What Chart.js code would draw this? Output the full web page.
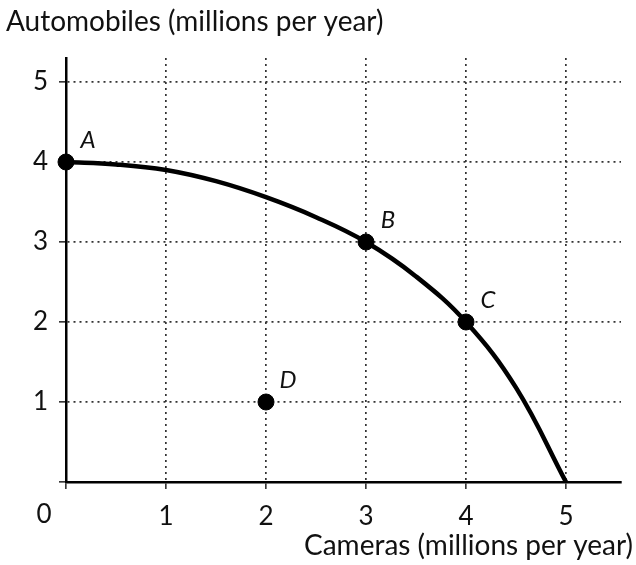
<!DOCTYPE html>
<html>
<head>
<meta charset="utf-8">
<script src="https://cdn.jsdelivr.net/npm/chart.js@4"></script>
<style>
  html, body { margin: 0; padding: 0; background: #fff; }
  #wrap { width: 636px; height: 565px; position: relative; }
</style>
</head>
<body>
<div id="wrap"><canvas id="ppf"></canvas></div>
<script>
// PPF curve
const curveX = [0, 0.5, 1, 1.5, 2, 2.5, 3, 3.5, 4, 4.5, 5];
const curveY = [4, 3.97, 3.9, 3.76, 3.56, 3.31, 3, 2.57, 2, 1.18, 0];

// labelled points
const pointNames = ['A', 'B', 'C', 'D'];
const pointX = [0, 3, 4, 2];
const pointY = [4, 3, 2, 1];

const xTicks = [1, 2, 3, 4, 5];
const yTicks = [1, 2, 3, 4, 5];
const yTitle = 'Automobiles (millions per year)';
const xTitle = 'Cameras (millions per year)';

const FONT = 'Lato, "Open Sans", sans-serif';

const annotate = {
	id: 'annotate',
	afterDatasetsDraw(chart) {
		const ctx = chart.ctx;
		const xs = chart.scales.x, ys = chart.scales.y;
		ctx.save();
		ctx.fillStyle = '#111';
		// point letters
		ctx.font = 'italic 24px ' + FONT;
		ctx.textAlign = 'center';
		ctx.textBaseline = 'middle';
		pointNames.forEach((n, i) => {
			ctx.fillText(n, xs.getPixelForValue(pointX[i]) + 22, ys.getPixelForValue(pointY[i]) - 22);
		});
		// axis titles
		ctx.font = '28px ' + FONT;
		ctx.textAlign = 'left';
		ctx.fillText(yTitle, 6, 22);
		ctx.textAlign = 'right';
		ctx.fillText(xTitle, 633, 546);
		// origin label
		ctx.font = '26px ' + FONT;
		ctx.textAlign = 'center';
		ctx.fillText('0', 44, 515);
		ctx.restore();
	}
};

const ctx = document.getElementById('ppf').getContext('2d');
new Chart(ctx, {
	type: 'scatter',
	data: {
		datasets: [
			{
				data: pointX.map((x, i) => ({ x: x, y: pointY[i] })),
				backgroundColor: '#000',
				borderColor: '#000',
				pointRadius: 8,
				showLine: false,
				clip: false,
				order: 0
			},
			{
				data: curveX.map((x, i) => ({ x: x, y: curveY[i] })),
				borderColor: '#000',
				borderWidth: 4.5,
				pointRadius: 0,
				showLine: true,
				tension: 0.4,
				order: 1
			}
		]
	},
	options: {
		responsive: true,
		maintainAspectRatio: false,
		animation: false,
		layout: { padding: { top: 58, right: 15, left: 0, bottom: 0 } },
		plugins: {
			legend: { display: false },
			tooltip: { enabled: false }
		},
		scales: {
			x: {
				type: 'linear',
				min: 0,
				max: 5.55,
				afterFit: (s) => { s.height = 83; },
				afterBuildTicks: (s) => { s.ticks = [0].concat(xTicks).map(v => ({ value: v })); },
				grid: { color: '#333', lineWidth: 1.7, tickLength: 7, tickColor: '#222', tickWidth: 1.5 },
				border: { color: '#000', width: 2.5, dash: [2, 4] },
				ticks: {
					padding: 12,
					color: '#111',
					font: { family: FONT, size: 26 },
					callback: (v) => v === 0 ? '' : String(v)
				}
			},
			y: {
				type: 'linear',
				min: 0,
				max: 5.3,
				afterFit: (s) => { s.width = 66; },
				afterBuildTicks: (s) => { s.ticks = [0].concat(yTicks).map(v => ({ value: v })); },
				grid: { color: '#333', lineWidth: 1.7, tickLength: 7, tickColor: '#222', tickWidth: 1.5 },
				border: { color: '#000', width: 2.5, dash: [2, 4] },
				ticks: {
					padding: 11,
					color: '#111',
					font: { family: FONT, size: 26 },
					callback: (v) => v === 0 ? '' : String(v)
				}
			}
		}
	},
	plugins: [annotate]
});
</script>
</body>
</html>
